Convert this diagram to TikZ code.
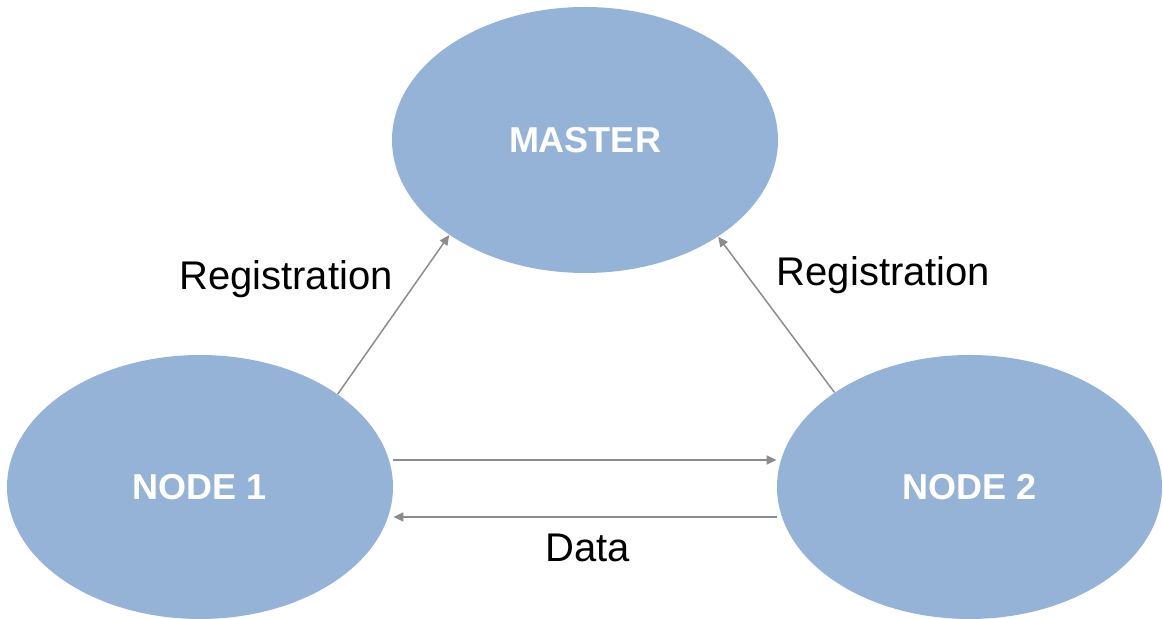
\documentclass[tikz,border=0pt]{standalone}
\usepackage{fontspec}
\setmainfont{Liberation Sans}
\usetikzlibrary{shapes, calc, arrows.meta}

\begin{document}
\begin{tikzpicture}[x=0.5pt,y=0.5pt,
	blob/.style={ellipse, fill=mycolor, inner sep=0pt, minimum width=193pt, minimum height=132pt, text=white, font=\fontsize{18}{20}\selectfont\bfseries},
	link/.style={draw=mycolor2, line width=0.75pt, -{Triangle[length=5pt,width=4.5pt]}},
	lbl/.style={anchor=base, font=\fontsize{20}{24}\selectfont}]
	\definecolor{mycolor}{RGB}{149,179,215}
	\definecolor{mycolor2}{RGB}{140,140,140}
	\useasboundingbox (0,0) rectangle (1163,619);
	\node (master) at (585,479) [blob, minimum height=133pt]{MASTER};
	\node (node1) at (200,132) [blob]{NODE 1};
	\node (node2) at (969.5,132) [blob, minimum width=192.5pt]{NODE 2};
	\node (reg1) at (286,329) [lbl]{Registration};
	\node (reg2) at (883.5,333) [lbl]{Registration};
	\node (data) at (587.5,57) [lbl]{Data};
	\draw[link] (node1.34.6) -- (master.215.2);
	\draw[link] (node2.145.4) -- (master.324.9);
	\draw[link] ([yshift=13.5pt]node1.east) -- ([yshift=13.5pt]node2.west);
	\draw[link] ([yshift=-15pt]node2.west) -- ([yshift=-15pt]node1.east);
\end{tikzpicture}
\end{document}
